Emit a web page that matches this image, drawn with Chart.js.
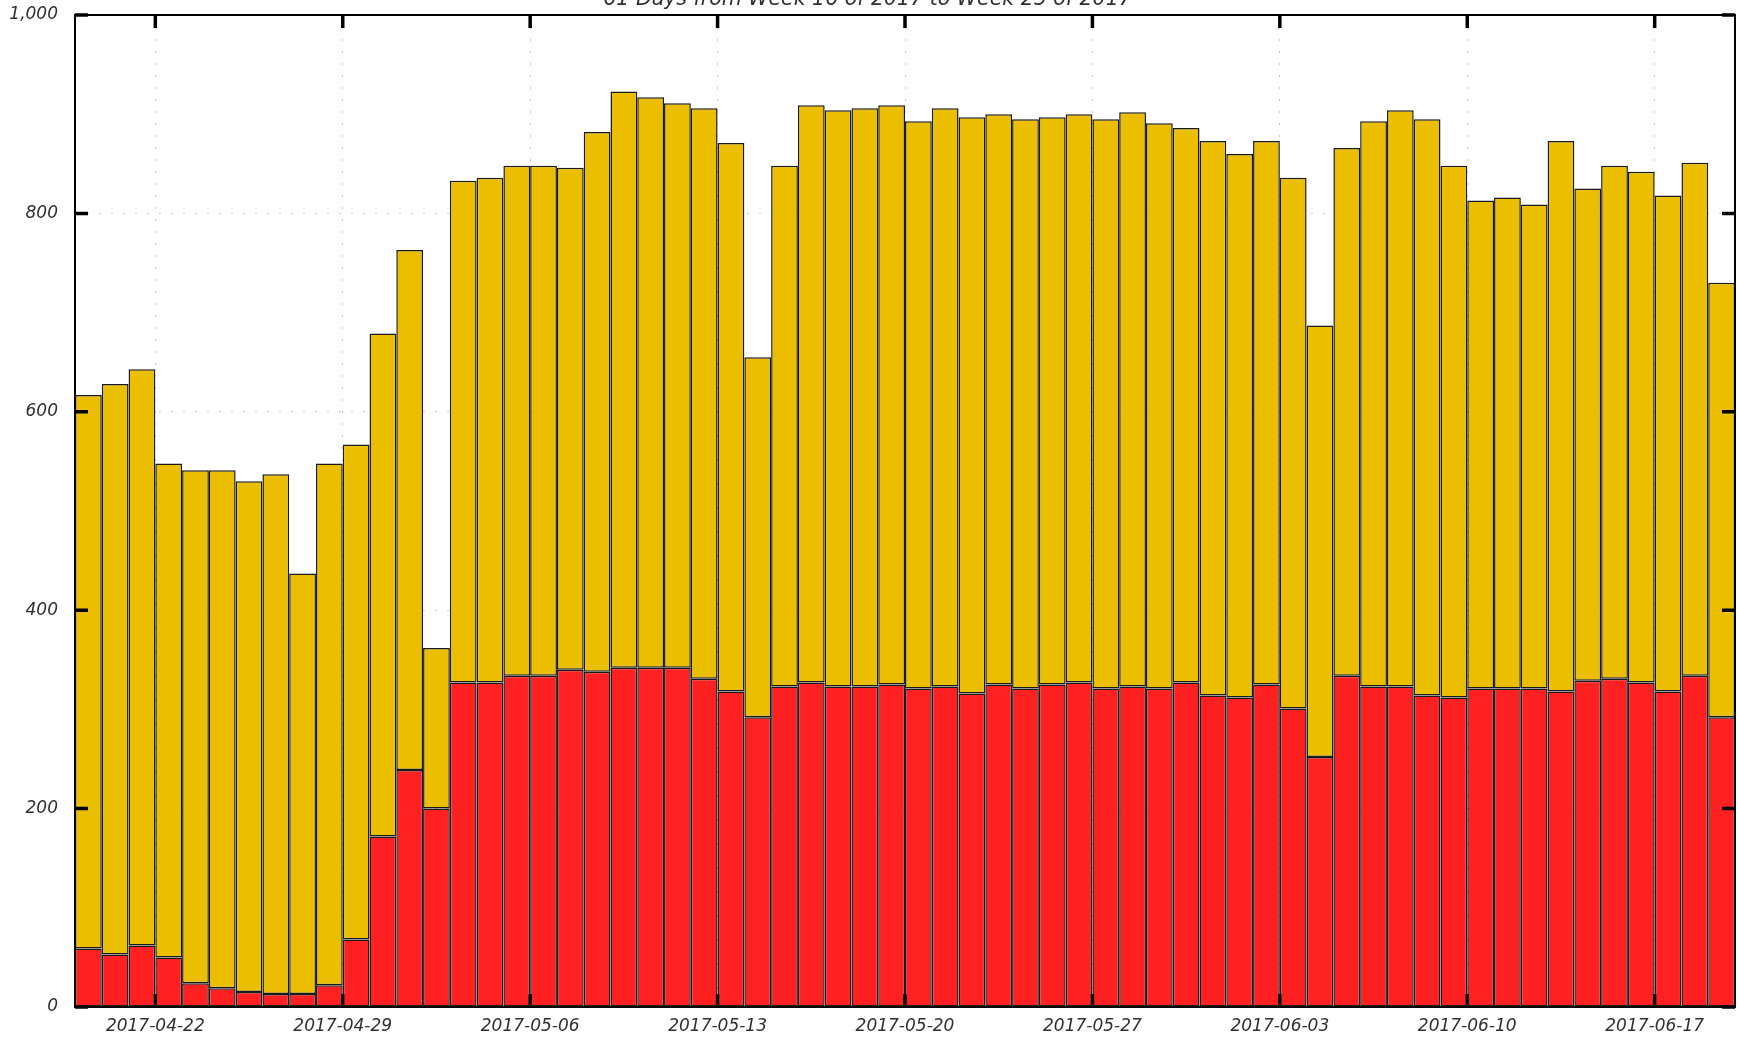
<!DOCTYPE html>
<html>
<head>
<meta charset="utf-8">
<script src="https://cdn.jsdelivr.net/npm/chart.js@4/dist/chart.umd.min.js"></script>
<style>
  html, body { margin: 0; padding: 0; background: #fff; overflow: hidden; }
  #wrap { position: relative; width: 1738px; height: 1037px; overflow: hidden; }
  #chart { position: absolute; left: 0; top: -30px; }
</style>
</head>
<body>
<div id="wrap"><canvas id="chart" width="1738" height="1067"></canvas></div>
<script>
// One bar per day, 2017-04-19 through 2017-06-19
const days = [
  '2017-04-19','2017-04-20','2017-04-21','2017-04-22','2017-04-23','2017-04-24','2017-04-25',
  '2017-04-26','2017-04-27','2017-04-28','2017-04-29','2017-04-30','2017-05-01','2017-05-02',
  '2017-05-03','2017-05-04','2017-05-05','2017-05-06','2017-05-07','2017-05-08','2017-05-09',
  '2017-05-10','2017-05-11','2017-05-12','2017-05-13','2017-05-14','2017-05-15','2017-05-16',
  '2017-05-17','2017-05-18','2017-05-19','2017-05-20','2017-05-21','2017-05-22','2017-05-23',
  '2017-05-24','2017-05-25','2017-05-26','2017-05-27','2017-05-28','2017-05-29','2017-05-30',
  '2017-05-31','2017-06-01','2017-06-02','2017-06-03','2017-06-04','2017-06-05','2017-06-06',
  '2017-06-07','2017-06-08','2017-06-09','2017-06-10','2017-06-11','2017-06-12','2017-06-13',
  '2017-06-14','2017-06-15','2017-06-16','2017-06-17','2017-06-18','2017-06-19'
];

// Lower (red) segment of each day's stack
const lowerValues = [
  59, 53, 62, 50, 24, 19, 15, 13, 13, 22, 68, 172, 239, 200,
  327, 327, 334, 334, 340, 338, 342, 342, 342, 331, 318, 292,
  323, 327, 323, 323, 325, 321, 323, 316, 325, 321, 325, 327,
  321, 323, 321, 327, 314, 312, 325, 301, 252, 334, 323, 323,
  314, 312, 321, 321, 321, 318, 329, 331, 327, 318, 334, 292
];

// Upper (yellow) segment of each day's stack
const upperValues = [
  558, 575, 581, 498, 517, 522, 515, 524, 424, 526, 499, 507, 524, 162,
  506, 509, 514, 514, 506, 544, 581, 575, 569, 575, 553, 363,
  525, 582, 581, 583, 584, 572, 583, 581, 575, 574, 572, 573,
  574, 579, 570, 559, 559, 548, 548, 535, 435, 532, 570, 581,
  581, 536, 492, 495, 488, 555, 496, 517, 515, 500, 517, 438
];

// Weekly labels on the time axis
const weekTickLabels = [
  '2017-04-22','2017-04-29','2017-05-06','2017-05-13','2017-05-20',
  '2017-05-27','2017-06-03','2017-06-10','2017-06-17'
];

const titleText = '61 Days from Week 16 of 2017 to Week 25 of 2017';

const yMin = 0, yMax = 1000, yStep = 200;

const RED = '#ff2121';
const YELLOW = '#ebbe00';
const EDGE = '#1a1a1a';
const TEXT = '#303030';
const FONT = 'DejaVu Sans';

const toPoints = arr => arr.map((v, i) => ({ x: i + 0.5, y: v }));
const weekTickIndices = weekTickLabels.map(l => days.indexOf(l));

// Frame and gnuplot-style inward tick marks on all four sides
const framePlugin = {
  id: 'frame',
  afterDraw(chart) {
    const { ctx, chartArea: a, scales } = chart;
    const xs = scales.x, ys = scales.y;
    ctx.save();
    ctx.strokeStyle = '#000';
    ctx.lineCap = 'butt';
    ctx.lineWidth = 3.5;
    const len = 13;
    ys.ticks.forEach(t => {
      const y = ys.getPixelForValue(t.value);
      ctx.beginPath();
      ctx.moveTo(a.left, y); ctx.lineTo(a.left + len, y);
      ctx.moveTo(a.right, y); ctx.lineTo(a.right - len, y);
      ctx.stroke();
    });
    xs.ticks.forEach(t => {
      const x = xs.getPixelForValue(t.value);
      ctx.beginPath();
      ctx.moveTo(x, a.bottom); ctx.lineTo(x, a.bottom - len);
      ctx.moveTo(x, a.top); ctx.lineTo(x, a.top + len);
      ctx.stroke();
    });
    ctx.lineWidth = 2;
    ctx.strokeRect(a.left, a.top, a.right - a.left, a.bottom - a.top);
    ctx.restore();
  }
};

new Chart(document.getElementById('chart'), {
  type: 'bar',
  data: {
    datasets: [
      {
        label: 'Lower',
        data: toPoints(lowerValues),
        backgroundColor: RED,
        borderColor: EDGE,
        borderWidth: 1.5,
        borderSkipped: false
      },
      {
        label: 'Upper',
        data: toPoints(upperValues),
        backgroundColor: YELLOW,
        borderColor: EDGE,
        borderWidth: 1.5,
        borderSkipped: false
      }
    ]
  },
  options: {
    responsive: false,
    animation: false,
    devicePixelRatio: 1,
    layout: { padding: { left: 0, right: 3, top: 0, bottom: 0 } },
    datasets: { bar: { barPercentage: 1, categoryPercentage: 1, inflateAmount: 0 } },
    plugins: {
      legend: { display: false },
      tooltip: { enabled: false },
      title: {
        display: true,
        text: titleText,
        color: TEXT,
        font: { family: FONT, size: 20.5, style: 'italic', weight: 'normal' },
        padding: { top: 17.7, bottom: 2.7 }
      }
    },
    scales: {
      x: {
        type: 'linear',
        stacked: true,
        offset: false,
        min: 0,
        max: days.length,
        z: 1,
        afterBuildTicks: s => { s.ticks = weekTickIndices.map(v => ({ value: v })); },
        afterFit: s => { s.height = 30; },
        grid: { offset: false, color: 'rgba(0,0,0,0.22)', lineWidth: 1, drawTicks: false },
        border: { display: false, dash: [2, 10] },
        ticks: {
          autoSkip: false,
          maxRotation: 0,
          padding: 9,
          color: TEXT,
          font: { family: FONT, size: 17, style: 'italic' },
          callback: v => days[v]
        }
      },
      y: {
        stacked: true,
        min: yMin,
        max: yMax,
        z: 1,
        afterFit: s => { s.width = 75; },
        grid: { color: 'rgba(0,0,0,0.22)', lineWidth: 1, drawTicks: false },
        border: { display: false, dash: [2, 10] },
        ticks: {
          stepSize: yStep,
          padding: 17,
          color: TEXT,
          font: { family: FONT, size: 17, style: 'italic' },
          callback: v => v.toLocaleString('en-US')
        }
      }
    }
  },
  plugins: [framePlugin]
});
</script>
</body>
</html>
